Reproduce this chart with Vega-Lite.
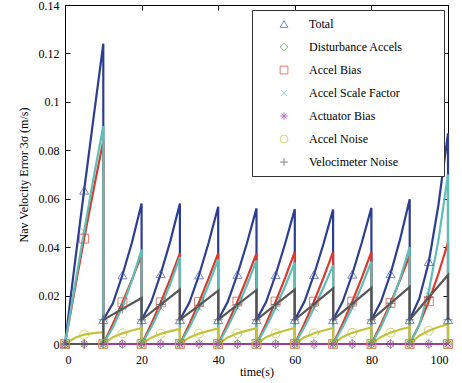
{
  "$schema": "https://vega.github.io/schema/vega-lite/v6.json",
  "width": 383,
  "height": 339,
  "autosize": {"type": "none"},
  "padding": {"left": 65, "top": 5, "right": 14, "bottom": 39},
  "background": "#ffffff",
  "config": {
    "view": {"stroke": "#000000", "strokeWidth": 1},
    "font": "Liberation Serif",
    "axis": {
      "labelFont": "Liberation Serif",
      "titleFont": "Liberation Serif",
      "labelFontSize": 12,
      "titleFontSize": 12,
      "titleFontWeight": "normal",
      "labelColor": "#000000",
      "titleColor": "#000000",
      "domainColor": "#000000",
      "tickColor": "#000000",
      "grid": false,
      "ticks": true,
      "tickWidth": 1,
      "tickSize": -4
    },
    "legend": {
      "orient": "none",
      "legendX": 187,
      "legendY": 5,
      "labelFont": "Liberation Serif", "labelFontSize": 12, "labelColor": "#000000",
      "symbolSize": 60, "symbolStrokeWidth": 1,
      "rowPadding": 11, "padding": 8, "symbolOffset": 18, "labelOffset": 19,
      "titleOrient": "right", "titlePadding": 33, "titleFontSize": 12, "titleFont": "Liberation Serif",
      "strokeColor": "#333333", "fillColor": "#ffffff", "cornerRadius": 0
    }
  },
  "data": {
    "values": [
      {"s": "Total", "t": 0, "v": 0, "m": 1},
      {"s": "Total", "t": 2.5, "v": 0.0325},
      {"s": "Total", "t": 5, "v": 0.0635, "m": 1},
      {"s": "Total", "t": 7.5, "v": 0.094},
      {"s": "Total", "t": 10, "v": 0.124},
      {"s": "Total", "t": 10, "v": 0.01, "m": 1},
      {"s": "Total", "t": 12.5, "v": 0.0168},
      {"s": "Total", "t": 15, "v": 0.0285, "m": 1},
      {"s": "Total", "t": 17.5, "v": 0.042},
      {"s": "Total", "t": 20, "v": 0.058},
      {"s": "Total", "t": 20, "v": 0.01, "m": 1},
      {"s": "Total", "t": 22.5, "v": 0.0173},
      {"s": "Total", "t": 25, "v": 0.029, "m": 1},
      {"s": "Total", "t": 27.5, "v": 0.0425},
      {"s": "Total", "t": 30, "v": 0.058},
      {"s": "Total", "t": 30, "v": 0.01, "m": 1},
      {"s": "Total", "t": 32.5, "v": 0.0172},
      {"s": "Total", "t": 35, "v": 0.0285, "m": 1},
      {"s": "Total", "t": 37.5, "v": 0.0418},
      {"s": "Total", "t": 40, "v": 0.0567},
      {"s": "Total", "t": 40, "v": 0.01, "m": 1},
      {"s": "Total", "t": 42.5, "v": 0.0174},
      {"s": "Total", "t": 45, "v": 0.0287, "m": 1},
      {"s": "Total", "t": 47.5, "v": 0.0416},
      {"s": "Total", "t": 50, "v": 0.056},
      {"s": "Total", "t": 50, "v": 0.01, "m": 1},
      {"s": "Total", "t": 52.5, "v": 0.0173},
      {"s": "Total", "t": 55, "v": 0.0286, "m": 1},
      {"s": "Total", "t": 57.5, "v": 0.0416},
      {"s": "Total", "t": 60, "v": 0.0557},
      {"s": "Total", "t": 60, "v": 0.01, "m": 1},
      {"s": "Total", "t": 62.5, "v": 0.0174},
      {"s": "Total", "t": 65, "v": 0.0286, "m": 1},
      {"s": "Total", "t": 67.5, "v": 0.0414},
      {"s": "Total", "t": 70, "v": 0.0555},
      {"s": "Total", "t": 70, "v": 0.01, "m": 1},
      {"s": "Total", "t": 72.5, "v": 0.0175},
      {"s": "Total", "t": 75, "v": 0.0288, "m": 1},
      {"s": "Total", "t": 77.5, "v": 0.0419},
      {"s": "Total", "t": 80, "v": 0.0562},
      {"s": "Total", "t": 80, "v": 0.01, "m": 1},
      {"s": "Total", "t": 82.5, "v": 0.0175},
      {"s": "Total", "t": 85, "v": 0.029, "m": 1},
      {"s": "Total", "t": 87.5, "v": 0.0433},
      {"s": "Total", "t": 90, "v": 0.0598},
      {"s": "Total", "t": 90, "v": 0.01, "m": 1},
      {"s": "Total", "t": 92.5, "v": 0.0187},
      {"s": "Total", "t": 95, "v": 0.034, "m": 1},
      {"s": "Total", "t": 97.5, "v": 0.0574},
      {"s": "Total", "t": 100, "v": 0.087},
      {"s": "Total", "t": 100, "v": 0.01, "m": 1},

      {"s": "Disturbance Accels", "t": 0, "v": 0, "m": 1},
      {"s": "Disturbance Accels", "t": 5, "v": 0, "m": 1},
      {"s": "Disturbance Accels", "t": 10, "v": 0, "m": 1},
      {"s": "Disturbance Accels", "t": 15, "v": 0, "m": 1},
      {"s": "Disturbance Accels", "t": 20, "v": 0, "m": 1},
      {"s": "Disturbance Accels", "t": 25, "v": 0, "m": 1},
      {"s": "Disturbance Accels", "t": 30, "v": 0, "m": 1},
      {"s": "Disturbance Accels", "t": 35, "v": 0, "m": 1},
      {"s": "Disturbance Accels", "t": 40, "v": 0, "m": 1},
      {"s": "Disturbance Accels", "t": 45, "v": 0, "m": 1},
      {"s": "Disturbance Accels", "t": 50, "v": 0, "m": 1},
      {"s": "Disturbance Accels", "t": 55, "v": 0, "m": 1},
      {"s": "Disturbance Accels", "t": 60, "v": 0, "m": 1},
      {"s": "Disturbance Accels", "t": 65, "v": 0, "m": 1},
      {"s": "Disturbance Accels", "t": 70, "v": 0, "m": 1},
      {"s": "Disturbance Accels", "t": 75, "v": 0, "m": 1},
      {"s": "Disturbance Accels", "t": 80, "v": 0, "m": 1},
      {"s": "Disturbance Accels", "t": 85, "v": 0, "m": 1},
      {"s": "Disturbance Accels", "t": 90, "v": 0, "m": 1},
      {"s": "Disturbance Accels", "t": 95, "v": 0, "m": 1},
      {"s": "Disturbance Accels", "t": 100, "v": 0, "m": 1},

      {"s": "Accel Bias", "t": 0, "v": 0, "m": 1},
      {"s": "Accel Bias", "t": 2.5, "v": 0.022},
      {"s": "Accel Bias", "t": 5, "v": 0.0435, "m": 1},
      {"s": "Accel Bias", "t": 7.5, "v": 0.064},
      {"s": "Accel Bias", "t": 10, "v": 0.084},
      {"s": "Accel Bias", "t": 10, "v": 0, "m": 1},
      {"s": "Accel Bias", "t": 12.5, "v": 0.0083},
      {"s": "Accel Bias", "t": 15, "v": 0.0172, "m": 1},
      {"s": "Accel Bias", "t": 17.5, "v": 0.0267},
      {"s": "Accel Bias", "t": 20, "v": 0.0367},
      {"s": "Accel Bias", "t": 20, "v": 0, "m": 1},
      {"s": "Accel Bias", "t": 22.5, "v": 0.0082},
      {"s": "Accel Bias", "t": 25, "v": 0.0172, "m": 1},
      {"s": "Accel Bias", "t": 27.5, "v": 0.027},
      {"s": "Accel Bias", "t": 30, "v": 0.0375},
      {"s": "Accel Bias", "t": 30, "v": 0, "m": 1},
      {"s": "Accel Bias", "t": 32.5, "v": 0.0083},
      {"s": "Accel Bias", "t": 35, "v": 0.0173, "m": 1},
      {"s": "Accel Bias", "t": 37.5, "v": 0.0271},
      {"s": "Accel Bias", "t": 40, "v": 0.0375},
      {"s": "Accel Bias", "t": 40, "v": 0, "m": 1},
      {"s": "Accel Bias", "t": 42.5, "v": 0.0085},
      {"s": "Accel Bias", "t": 45, "v": 0.0175, "m": 1},
      {"s": "Accel Bias", "t": 47.5, "v": 0.0272},
      {"s": "Accel Bias", "t": 50, "v": 0.0374},
      {"s": "Accel Bias", "t": 50, "v": 0, "m": 1},
      {"s": "Accel Bias", "t": 52.5, "v": 0.0084},
      {"s": "Accel Bias", "t": 55, "v": 0.0175, "m": 1},
      {"s": "Accel Bias", "t": 57.5, "v": 0.0274},
      {"s": "Accel Bias", "t": 60, "v": 0.038},
      {"s": "Accel Bias", "t": 60, "v": 0, "m": 1},
      {"s": "Accel Bias", "t": 62.5, "v": 0.0084},
      {"s": "Accel Bias", "t": 65, "v": 0.0175, "m": 1},
      {"s": "Accel Bias", "t": 67.5, "v": 0.0274},
      {"s": "Accel Bias", "t": 70, "v": 0.038},
      {"s": "Accel Bias", "t": 70, "v": 0, "m": 1},
      {"s": "Accel Bias", "t": 72.5, "v": 0.0084},
      {"s": "Accel Bias", "t": 75, "v": 0.0175, "m": 1},
      {"s": "Accel Bias", "t": 77.5, "v": 0.0274},
      {"s": "Accel Bias", "t": 80, "v": 0.038},
      {"s": "Accel Bias", "t": 80, "v": 0, "m": 1},
      {"s": "Accel Bias", "t": 82.5, "v": 0.0082},
      {"s": "Accel Bias", "t": 85, "v": 0.017, "m": 1},
      {"s": "Accel Bias", "t": 87.5, "v": 0.0265},
      {"s": "Accel Bias", "t": 90, "v": 0.0367},
      {"s": "Accel Bias", "t": 90, "v": 0, "m": 1},
      {"s": "Accel Bias", "t": 92.5, "v": 0.008},
      {"s": "Accel Bias", "t": 95, "v": 0.0177, "m": 1},
      {"s": "Accel Bias", "t": 97.5, "v": 0.029},
      {"s": "Accel Bias", "t": 100, "v": 0.042},
      {"s": "Accel Bias", "t": 100, "v": 0, "m": 1},

      {"s": "Accel Scale Factor", "t": 0, "v": 0, "m": 1},
      {"s": "Accel Scale Factor", "t": 2.5, "v": 0.0235},
      {"s": "Accel Scale Factor", "t": 5, "v": 0.0465, "m": 1},
      {"s": "Accel Scale Factor", "t": 7.5, "v": 0.069},
      {"s": "Accel Scale Factor", "t": 10, "v": 0.09},
      {"s": "Accel Scale Factor", "t": 10, "v": 0, "m": 1},
      {"s": "Accel Scale Factor", "t": 12.5, "v": 0.0068},
      {"s": "Accel Scale Factor", "t": 15, "v": 0.0155, "m": 1},
      {"s": "Accel Scale Factor", "t": 17.5, "v": 0.0263},
      {"s": "Accel Scale Factor", "t": 20, "v": 0.039},
      {"s": "Accel Scale Factor", "t": 20, "v": 0, "m": 1},
      {"s": "Accel Scale Factor", "t": 22.5, "v": 0.0068},
      {"s": "Accel Scale Factor", "t": 25, "v": 0.015, "m": 1},
      {"s": "Accel Scale Factor", "t": 27.5, "v": 0.0248},
      {"s": "Accel Scale Factor", "t": 30, "v": 0.036},
      {"s": "Accel Scale Factor", "t": 30, "v": 0, "m": 1},
      {"s": "Accel Scale Factor", "t": 32.5, "v": 0.0069},
      {"s": "Accel Scale Factor", "t": 35, "v": 0.015, "m": 1},
      {"s": "Accel Scale Factor", "t": 37.5, "v": 0.0244},
      {"s": "Accel Scale Factor", "t": 40, "v": 0.035},
      {"s": "Accel Scale Factor", "t": 40, "v": 0, "m": 1},
      {"s": "Accel Scale Factor", "t": 42.5, "v": 0.0071},
      {"s": "Accel Scale Factor", "t": 45, "v": 0.0152, "m": 1},
      {"s": "Accel Scale Factor", "t": 47.5, "v": 0.0243},
      {"s": "Accel Scale Factor", "t": 50, "v": 0.0345},
      {"s": "Accel Scale Factor", "t": 50, "v": 0, "m": 1},
      {"s": "Accel Scale Factor", "t": 52.5, "v": 0.007},
      {"s": "Accel Scale Factor", "t": 55, "v": 0.015, "m": 1},
      {"s": "Accel Scale Factor", "t": 57.5, "v": 0.0239},
      {"s": "Accel Scale Factor", "t": 60, "v": 0.0337},
      {"s": "Accel Scale Factor", "t": 60, "v": 0, "m": 1},
      {"s": "Accel Scale Factor", "t": 62.5, "v": 0.007},
      {"s": "Accel Scale Factor", "t": 65, "v": 0.0148, "m": 1},
      {"s": "Accel Scale Factor", "t": 67.5, "v": 0.0233},
      {"s": "Accel Scale Factor", "t": 70, "v": 0.0326},
      {"s": "Accel Scale Factor", "t": 70, "v": 0, "m": 1},
      {"s": "Accel Scale Factor", "t": 72.5, "v": 0.007},
      {"s": "Accel Scale Factor", "t": 75, "v": 0.015, "m": 1},
      {"s": "Accel Scale Factor", "t": 77.5, "v": 0.024},
      {"s": "Accel Scale Factor", "t": 80, "v": 0.034},
      {"s": "Accel Scale Factor", "t": 80, "v": 0, "m": 1},
      {"s": "Accel Scale Factor", "t": 82.5, "v": 0.007},
      {"s": "Accel Scale Factor", "t": 85, "v": 0.016, "m": 1},
      {"s": "Accel Scale Factor", "t": 87.5, "v": 0.027},
      {"s": "Accel Scale Factor", "t": 90, "v": 0.04},
      {"s": "Accel Scale Factor", "t": 90, "v": 0, "m": 1},
      {"s": "Accel Scale Factor", "t": 92.5, "v": 0.0078},
      {"s": "Accel Scale Factor", "t": 95, "v": 0.022, "m": 1},
      {"s": "Accel Scale Factor", "t": 97.5, "v": 0.0428},
      {"s": "Accel Scale Factor", "t": 100, "v": 0.07},
      {"s": "Accel Scale Factor", "t": 100, "v": 0, "m": 1},

      {"s": "Actuator Bias", "t": 0, "v": 0, "m": 1},
      {"s": "Actuator Bias", "t": 5, "v": 0, "m": 1},
      {"s": "Actuator Bias", "t": 10, "v": 0, "m": 1},
      {"s": "Actuator Bias", "t": 15, "v": 0, "m": 1},
      {"s": "Actuator Bias", "t": 20, "v": 0, "m": 1},
      {"s": "Actuator Bias", "t": 25, "v": 0, "m": 1},
      {"s": "Actuator Bias", "t": 30, "v": 0, "m": 1},
      {"s": "Actuator Bias", "t": 35, "v": 0, "m": 1},
      {"s": "Actuator Bias", "t": 40, "v": 0, "m": 1},
      {"s": "Actuator Bias", "t": 45, "v": 0, "m": 1},
      {"s": "Actuator Bias", "t": 50, "v": 0, "m": 1},
      {"s": "Actuator Bias", "t": 55, "v": 0, "m": 1},
      {"s": "Actuator Bias", "t": 60, "v": 0, "m": 1},
      {"s": "Actuator Bias", "t": 65, "v": 0, "m": 1},
      {"s": "Actuator Bias", "t": 70, "v": 0, "m": 1},
      {"s": "Actuator Bias", "t": 75, "v": 0, "m": 1},
      {"s": "Actuator Bias", "t": 80, "v": 0, "m": 1},
      {"s": "Actuator Bias", "t": 85, "v": 0, "m": 1},
      {"s": "Actuator Bias", "t": 90, "v": 0, "m": 1},
      {"s": "Actuator Bias", "t": 95, "v": 0, "m": 1},
      {"s": "Actuator Bias", "t": 100, "v": 0, "m": 1},

      {"s": "Accel Noise", "t": 0, "v": 0, "m": 1},
      {"s": "Accel Noise", "t": 2.5, "v": 0.0025},
      {"s": "Accel Noise", "t": 5, "v": 0.0039, "m": 1},
      {"s": "Accel Noise", "t": 7.5, "v": 0.0045},
      {"s": "Accel Noise", "t": 10, "v": 0.0049},
      {"s": "Accel Noise", "t": 10, "v": 0, "m": 1},
      {"s": "Accel Noise", "t": 12.5, "v": 0.0028},
      {"s": "Accel Noise", "t": 15, "v": 0.0044, "m": 1},
      {"s": "Accel Noise", "t": 17.5, "v": 0.0056},
      {"s": "Accel Noise", "t": 20, "v": 0.0066},
      {"s": "Accel Noise", "t": 20, "v": 0, "m": 1},
      {"s": "Accel Noise", "t": 22.5, "v": 0.0026},
      {"s": "Accel Noise", "t": 25, "v": 0.0042, "m": 1},
      {"s": "Accel Noise", "t": 27.5, "v": 0.0053},
      {"s": "Accel Noise", "t": 30, "v": 0.0062},
      {"s": "Accel Noise", "t": 30, "v": 0, "m": 1},
      {"s": "Accel Noise", "t": 32.5, "v": 0.0027},
      {"s": "Accel Noise", "t": 35, "v": 0.0043, "m": 1},
      {"s": "Accel Noise", "t": 37.5, "v": 0.0054},
      {"s": "Accel Noise", "t": 40, "v": 0.0064},
      {"s": "Accel Noise", "t": 40, "v": 0, "m": 1},
      {"s": "Accel Noise", "t": 42.5, "v": 0.0027},
      {"s": "Accel Noise", "t": 45, "v": 0.0044, "m": 1},
      {"s": "Accel Noise", "t": 47.5, "v": 0.0055},
      {"s": "Accel Noise", "t": 50, "v": 0.0065},
      {"s": "Accel Noise", "t": 50, "v": 0, "m": 1},
      {"s": "Accel Noise", "t": 52.5, "v": 0.0028},
      {"s": "Accel Noise", "t": 55, "v": 0.0044, "m": 1},
      {"s": "Accel Noise", "t": 57.5, "v": 0.0056},
      {"s": "Accel Noise", "t": 60, "v": 0.0066},
      {"s": "Accel Noise", "t": 60, "v": 0, "m": 1},
      {"s": "Accel Noise", "t": 62.5, "v": 0.0028},
      {"s": "Accel Noise", "t": 65, "v": 0.0044, "m": 1},
      {"s": "Accel Noise", "t": 67.5, "v": 0.0056},
      {"s": "Accel Noise", "t": 70, "v": 0.0066},
      {"s": "Accel Noise", "t": 70, "v": 0, "m": 1},
      {"s": "Accel Noise", "t": 72.5, "v": 0.0029},
      {"s": "Accel Noise", "t": 75, "v": 0.0046, "m": 1},
      {"s": "Accel Noise", "t": 77.5, "v": 0.0058},
      {"s": "Accel Noise", "t": 80, "v": 0.0068},
      {"s": "Accel Noise", "t": 80, "v": 0, "m": 1},
      {"s": "Accel Noise", "t": 82.5, "v": 0.0029},
      {"s": "Accel Noise", "t": 85, "v": 0.0047, "m": 1},
      {"s": "Accel Noise", "t": 87.5, "v": 0.006},
      {"s": "Accel Noise", "t": 90, "v": 0.007},
      {"s": "Accel Noise", "t": 90, "v": 0, "m": 1},
      {"s": "Accel Noise", "t": 92.5, "v": 0.0034},
      {"s": "Accel Noise", "t": 95, "v": 0.0055, "m": 1},
      {"s": "Accel Noise", "t": 97.5, "v": 0.007},
      {"s": "Accel Noise", "t": 100, "v": 0.0082},
      {"s": "Accel Noise", "t": 100, "v": 0, "m": 1},

      {"s": "Velocimeter Noise", "t": 0, "v": 0, "m": 1},
      {"s": "Velocimeter Noise", "t": 5, "v": 0, "m": 1},
      {"s": "Velocimeter Noise", "t": 10, "v": 0},
      {"s": "Velocimeter Noise", "t": 10, "v": 0.01, "m": 1},
      {"s": "Velocimeter Noise", "t": 15, "v": 0.0145, "m": 1},
      {"s": "Velocimeter Noise", "t": 20, "v": 0.019},
      {"s": "Velocimeter Noise", "t": 20, "v": 0.01, "m": 1},
      {"s": "Velocimeter Noise", "t": 25, "v": 0.0163, "m": 1},
      {"s": "Velocimeter Noise", "t": 30, "v": 0.0225},
      {"s": "Velocimeter Noise", "t": 30, "v": 0.01, "m": 1},
      {"s": "Velocimeter Noise", "t": 35, "v": 0.016, "m": 1},
      {"s": "Velocimeter Noise", "t": 40, "v": 0.022},
      {"s": "Velocimeter Noise", "t": 40, "v": 0.01, "m": 1},
      {"s": "Velocimeter Noise", "t": 45, "v": 0.0162, "m": 1},
      {"s": "Velocimeter Noise", "t": 50, "v": 0.0223},
      {"s": "Velocimeter Noise", "t": 50, "v": 0.01, "m": 1},
      {"s": "Velocimeter Noise", "t": 55, "v": 0.0163, "m": 1},
      {"s": "Velocimeter Noise", "t": 60, "v": 0.0225},
      {"s": "Velocimeter Noise", "t": 60, "v": 0.01, "m": 1},
      {"s": "Velocimeter Noise", "t": 65, "v": 0.0165, "m": 1},
      {"s": "Velocimeter Noise", "t": 70, "v": 0.023},
      {"s": "Velocimeter Noise", "t": 70, "v": 0.01, "m": 1},
      {"s": "Velocimeter Noise", "t": 75, "v": 0.0166, "m": 1},
      {"s": "Velocimeter Noise", "t": 80, "v": 0.0232},
      {"s": "Velocimeter Noise", "t": 80, "v": 0.01, "m": 1},
      {"s": "Velocimeter Noise", "t": 85, "v": 0.0168, "m": 1},
      {"s": "Velocimeter Noise", "t": 90, "v": 0.0236},
      {"s": "Velocimeter Noise", "t": 90, "v": 0.01, "m": 1},
      {"s": "Velocimeter Noise", "t": 95, "v": 0.0193, "m": 1},
      {"s": "Velocimeter Noise", "t": 100, "v": 0.0285},
      {"s": "Velocimeter Noise", "t": 100, "v": 0.01, "m": 1}
    ]
  },
  "layer": [
    {
      "mark": {"type": "line", "strokeWidth": 2.2, "clip": false},
      "encoding": {
        "x": {
          "field": "t", "type": "quantitative",
          "scale": {"domain": [0, 100], "nice": false},
          "axis": {"values": [0, 20, 40, 60, 80, 100], "title": "time(s)", "labelPadding": 15, "titlePadding": 1, "domain": false, "tickSize": -5}
        },
        "y": {
          "field": "v", "type": "quantitative",
          "scale": {"domain": [0, 0.14], "nice": false},
          "axis": {"values": [0, 0.02, 0.04, 0.06, 0.08, 0.1, 0.12, 0.14], "format": "~g", "title": "Nav Velocity Error 3σ (m/s)", "labelPadding": 11, "titlePadding": 8, "domain": false, "tickSize": -5}
        },
        "stroke": {
          "field": "s", "type": "nominal",
          "scale": {
            "domain": ["Accel Bias", "Accel Noise", "Accel Scale Factor", "Actuator Bias", "Disturbance Accels", "Total", "Velocimeter Noise"],
            "range": ["#d93a2f", "#c4c23a", "#5ebfb6", "#9b3d9b", "#3f8f3f", "#2c3e91", "#555555"]
          },
          "legend": null
        },
        "order": {"value": null}
      }
    },
    {
      "transform": [{"filter": "datum.m == 1"}],
      "mark": {"type": "point", "filled": false, "strokeWidth": 1, "size": 80},
      "encoding": {
        "x": {
          "field": "t", "type": "quantitative",
          "axis": {"orient": "top", "values": [0, 20, 40, 60, 80, 100], "labels": false, "title": null, "domain": false, "tickSize": -5}
        },
        "y": {
          "field": "v", "type": "quantitative",
          "axis": {"orient": "right", "values": [0, 0.02, 0.04, 0.06, 0.08, 0.1, 0.12, 0.14], "labels": false, "title": null, "domain": false, "tickSize": -5}
        },
        "color": {
          "field": "s", "type": "nominal",
          "scale": {
            "domain": ["Total", "Disturbance Accels", "Accel Bias", "Accel Scale Factor", "Actuator Bias", "Accel Noise", "Velocimeter Noise"],
            "range": ["#4050a8", "#4a994a", "#d9463c", "#5ebfb6", "#9b3d9b", "#c4c23a", "#555555"]
          },
          "title": "\u00a0"
        },
        "shape": {
          "field": "s", "type": "nominal",
          "scale": {
            "domain": ["Total", "Disturbance Accels", "Accel Bias", "Accel Scale Factor", "Actuator Bias", "Accel Noise", "Velocimeter Noise"],
            "range": ["triangle-up", "diamond", "square", "M-0.75,-0.75L0.75,0.75M-0.75,0.75L0.75,-0.75", "M-1,0L1,0M0,-1L0,1M-0.7,-0.7L0.7,0.7M-0.7,0.7L0.7,-0.7", "circle", "M-1,0L1,0M0,-1L0,1"]
          },
          "title": "\u00a0"
        }
      }
    }
  ],
  "resolve": {"axis": {"x": "independent", "y": "independent"}}
}
